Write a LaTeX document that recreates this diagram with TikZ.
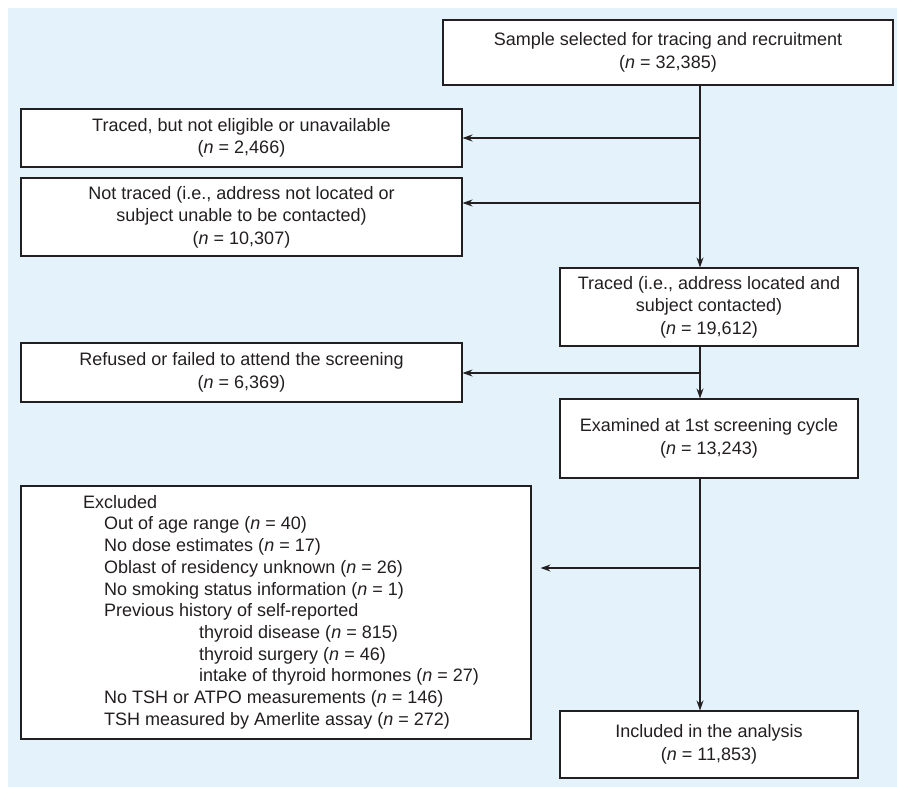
\documentclass[tikz,border=0pt]{standalone}
\usepackage{fontspec}
\setmainfont{Liberation Sans}
\usetikzlibrary{arrows.meta}
\definecolor{bgblue}{HTML}{E4F3FB}
\definecolor{inkgray}{HTML}{231F20}

\begin{document}
\begin{tikzpicture}[x=1pt,y=-1pt,
    box/.style={draw=inkgray, fill=white, line width=1.1pt, align=center, inner sep=0pt,
      text=inkgray, font=\fontsize{18}{22.5}\selectfont},
    flow/.style={draw=inkgray, line width=1.1pt, -{Stealth[length=10pt,width=7pt]}}]
    \useasboundingbox (0,0) rectangle (897,787);
    \fill[bgblue] (8,8) rectangle (897,787);
    % main column
    \node[box, minimum width=450pt, minimum height=65pt] (sample) at (668,52.5)
      {Sample selected for tracing and recruitment\\(\textit{n} = 32,385)};
    \node[box, minimum width=298pt, minimum height=78pt] (traced) at (709,307)
      {Traced (i.e., address located and\\subject contacted)\\(\textit{n} = 19,612)};
    \node[box, minimum width=298pt, minimum height=79pt] (exam) at (709,438.5)
      {Examined at 1st screening cycle\\(\textit{n} = 13,243)};
    \node[box, minimum width=298pt, minimum height=67pt] (incl) at (709,744.5)
      {Included in the analysis\\(\textit{n} = 11,853)};
    % side boxes
    \node[box, minimum width=441pt, minimum height=58pt] (noelig) at (241.5,138)
      {Traced, but not eligible or unavailable\\(\textit{n} = 2,466)};
    \node[box, minimum width=441pt, minimum height=78pt] (notraced) at (241.5,217)
      {Not traced (i.e., address not located or\\subject unable to be contacted)\\(\textit{n} = 10,307)};
    \node[box, minimum width=441pt, minimum height=59pt] (refused) at (241.5,372.5)
      {Refused or failed to attend the screening\\(\textit{n} = 6,369)};
    \node[box, minimum width=510pt, minimum height=253pt] (excl) at (276,612.5) {};
    \node[anchor=north west, align=left, inner sep=0pt, text=inkgray,
      font=\fontsize{18}{21.7}\selectfont] (excltext) at (83,495)
      {Excluded\\
       \hspace*{21pt}Out of age range (\textit{n} = 40)\\
       \hspace*{21pt}No dose estimates (\textit{n} = 17)\\
       \hspace*{21pt}Oblast of residency unknown (\textit{n} = 26)\\
       \hspace*{21pt}No smoking status information (\textit{n} = 1)\\
       \hspace*{21pt}Previous history of self-reported\\
       \hspace*{116pt}thyroid disease (\textit{n} = 815)\\
       \hspace*{116pt}thyroid surgery (\textit{n} = 46)\\
       \hspace*{116pt}intake of thyroid hormones (\textit{n} = 27)\\
       \hspace*{21pt}No TSH or ATPO measurements (\textit{n} = 146)\\
       \hspace*{21pt}TSH measured by Amerlite assay (\textit{n} = 272)};
    % connectors
    \coordinate (spine) at (700,0);
    \coordinate (b1) at (700,138);
    \coordinate (b2) at (700,203);
    \coordinate (b3) at (700,373);
    \coordinate (b4) at (700,568);
    \draw[flow] (sample.south -| spine) -- (traced.north -| spine);
    \draw[flow] (traced.south -| spine) -- (exam.north -| spine);
    \draw[flow] (exam.south -| spine) -- (incl.north -| spine);
    \draw[flow] (b1) -- (b1 -| noelig.east);
    \draw[flow] (b2) -- (b2 -| notraced.east);
    \draw[flow] (b3) -- (b3 -| refused.east);
    \draw[flow, shorten >=9pt] (b4) -- (b4 -| excl.east);
\end{tikzpicture}
\end{document}
